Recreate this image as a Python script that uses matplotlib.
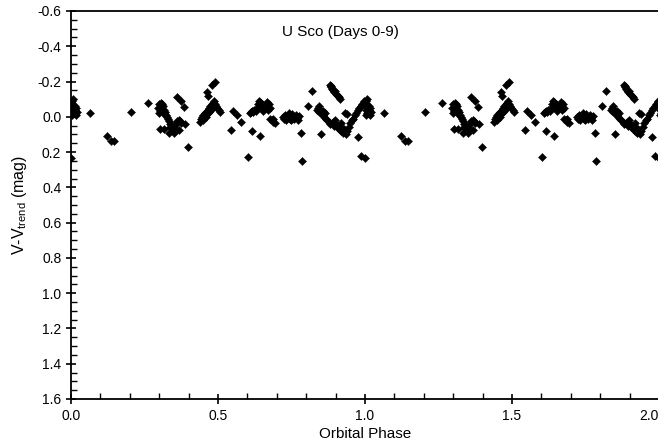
import numpy as np
import matplotlib.pyplot as plt
from matplotlib.ticker import MultipleLocator

# one orbital cycle, phase in [0,1); the plot repeats it at +1 and +2
phase = [
    0.002, 0.005, 0.008, 0.012, 0.004, 0.010, 0.015, 0.006, 0.013, 0.018, 0.003, 0.016, 0.020, 0.006,
    0.000, 0.065, 0.121, 0.135, 0.146, 0.203, 0.263,
    0.296, 0.300, 0.305, 0.310, 0.313, 0.298, 0.302, 0.308, 0.316, 0.320, 0.318, 0.324, 0.328,
    0.330, 0.334, 0.338, 0.342, 0.346, 0.350, 0.354, 0.358, 0.362, 0.366, 0.370, 0.374, 0.340, 0.336,
    0.303, 0.316, 0.333, 0.350, 0.368, 0.388, 0.397, 0.360, 0.373, 0.385,
    0.440, 0.443, 0.446, 0.450, 0.448, 0.453, 0.456, 0.460, 0.458, 0.463, 0.466, 0.470, 0.468,
    0.474, 0.478, 0.476, 0.482, 0.486, 0.484, 0.490, 0.494, 0.498, 0.502, 0.506,
    0.461, 0.467, 0.478, 0.490,
    0.543, 0.552, 0.563, 0.577, 0.601, 0.615, 0.643,
    0.608, 0.612, 0.616, 0.620, 0.624, 0.628, 0.632, 0.636, 0.640, 0.644, 0.648, 0.652, 0.656,
    0.660, 0.664, 0.668, 0.672, 0.676, 0.670, 0.642, 0.654,
    0.676, 0.682, 0.688, 0.694, 0.686,
    0.720, 0.724, 0.728, 0.732, 0.736, 0.740, 0.744, 0.748, 0.752, 0.756, 0.760, 0.764, 0.768, 0.772, 0.776,
    0.807, 0.781, 0.785, 0.849, 0.819,
    0.880, 0.884, 0.888, 0.892, 0.896, 0.900, 0.904, 0.908, 0.912, 0.916, 0.886, 0.898,
    0.836, 0.840, 0.844, 0.848, 0.852, 0.856, 0.860, 0.864, 0.868, 0.872, 0.876, 0.880, 0.842, 0.858,
    0.890, 0.895, 0.900, 0.905, 0.910, 0.915, 0.920, 0.925, 0.930, 0.935, 0.940, 0.945, 0.898, 0.918,
    0.932, 0.940,
    0.950, 0.955, 0.960, 0.965, 0.970, 0.975, 0.980, 0.985, 0.990, 0.995, 0.998,
    0.977, 0.986,
]
dmag = [
    -0.09, -0.07, -0.05, -0.06, -0.04, -0.03, -0.04, -0.02, -0.02, -0.05, -0.01, -0.01, -0.03, -0.10,
    0.235, -0.02, 0.11, 0.137, 0.137, -0.025, -0.08,
    -0.05, -0.07, -0.08, -0.075, -0.06, -0.02, -0.035, -0.045, -0.04, -0.03, -0.015, -0.01, 0.0,
    0.015, 0.025, 0.04, 0.05, 0.06, 0.055, 0.045, 0.035, 0.025, 0.02, 0.025, 0.035, 0.065, 0.055,
    0.07, 0.07, 0.09, 0.09, 0.075, 0.04, 0.17, -0.11, -0.087, -0.058,
    0.03, 0.015, 0.0, -0.01, 0.02, 0.005, -0.02, -0.03, 0.0, -0.015, -0.04, -0.05, -0.025,
    -0.06, -0.07, -0.04, -0.08, -0.09, -0.06, -0.075, -0.06, -0.05, -0.04, -0.03,
    -0.14, -0.12, -0.18, -0.20,
    0.075, -0.035, -0.01, 0.03, 0.23, 0.08, 0.11,
    -0.02, -0.03, -0.035, -0.03, -0.04, -0.035, -0.05, -0.07, -0.09, -0.085, -0.07, -0.05, -0.045,
    -0.06, -0.075, -0.085, -0.07, -0.05, -0.04, -0.06, -0.035,
    0.01, 0.02, 0.03, 0.035, 0.015,
    0.0, 0.01, -0.01, 0.02, 0.0, -0.02, 0.01, 0.02, -0.015, 0.0, 0.015, -0.01, 0.005, 0.02, -0.005,
    -0.063, 0.09, 0.25, 0.10, -0.148,
    -0.18, -0.17, -0.16, -0.15, -0.14, -0.13, -0.125, -0.12, -0.11, -0.10, -0.175, -0.145,
    -0.04, -0.05, -0.03, -0.04, -0.02, -0.01, 0.0, -0.02, 0.01, 0.02, 0.03, 0.04, -0.06, -0.035,
    0.03, 0.05, 0.04, 0.06, 0.07, 0.05, 0.08, 0.09, 0.07, 0.10, 0.08, 0.06, 0.02, 0.035,
    -0.02, -0.015,
    0.035, 0.02, 0.01, -0.01, -0.02, -0.04, -0.05, -0.06, -0.075, -0.085, -0.09,
    0.115, 0.22,
]

xticks = [0.0, 0.5, 1.0, 1.5, 2.0]
yticks = [-0.6, -0.4, -0.2, 0.0, 0.2, 0.4, 0.6, 0.8, 1.0, 1.2, 1.4, 1.6]

plt.rcParams['font.family'] = ['Liberation Sans', 'DejaVu Sans']

fig = plt.figure(figsize=(6.58, 4.45), dpi=100)
ax = fig.add_axes([71/658, 46/445, 588/658, 388/445])

ph = np.array(phase)
mg = np.array(dmag)
for k in range(3):
    ax.scatter(ph + k, mg, marker='D', s=17, c='black', linewidths=0.3, edgecolors='black', clip_on=True)

ax.set_xlim(0, 2.0)
ax.set_ylim(1.6, -0.6)
ax.set_xticks(xticks)
ax.set_xticklabels([f"{t:.1f}" for t in xticks])
ax.set_yticks(yticks)
ax.set_yticklabels([f"{t:.1f}" for t in yticks])
ax.xaxis.set_minor_locator(MultipleLocator(0.1))
ax.yaxis.set_minor_locator(MultipleLocator(0.05))
ax.tick_params(which='major', direction='inout', length=7, width=1.2, labelsize=10)
ax.tick_params(which='minor', direction='in', length=4, width=1.0)
ax.xaxis.get_ticklabels()[-1].set_horizontalalignment('right')
for sp in ax.spines.values():
    sp.set_linewidth(1.3)

ax.text(0.915, -0.48, "U Sco (Days 0-9)", ha='center', va='center', fontsize=11)
ax.set_xlabel("Orbital Phase", fontsize=11, labelpad=3)
ax.set_ylabel(r"V-V$_{\mathregular{trend}}$ (mag)", fontsize=11.5, labelpad=6)

fig.savefig("out.png", dpi=100)
